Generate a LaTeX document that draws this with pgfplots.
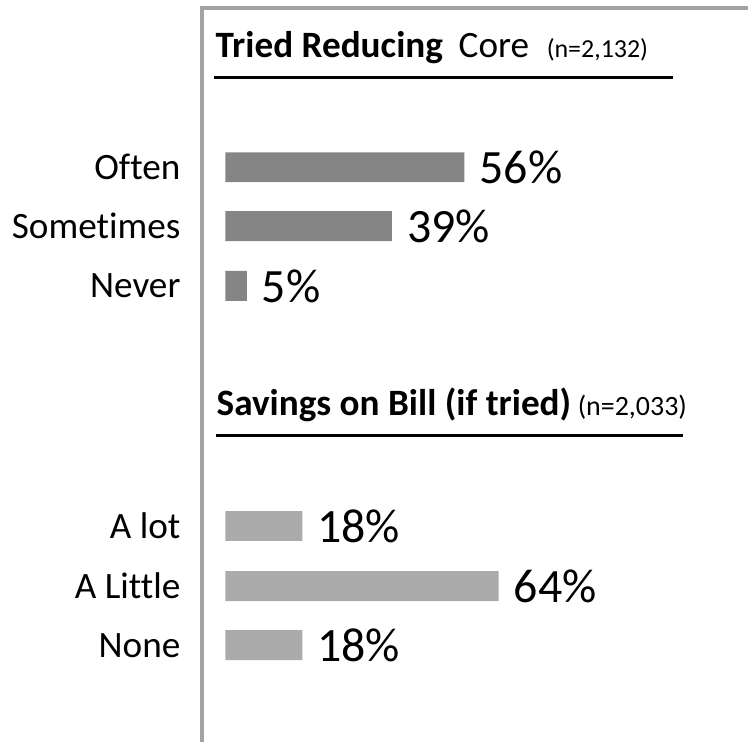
\documentclass[border=0pt]{standalone}
\usepackage{pgfplots}
\pgfplotsset{compat=1.18}
\usepackage{fontspec}
\setmainfont{Carlito}[Ligatures=NoCommon]
\definecolor{barA}{HTML}{858585}
\definecolor{barB}{HTML}{ABABAB}
\definecolor{framegray}{HTML}{A3A3A3}
\newcommand{\px}[1]{\fontsize{#1pt}{#1pt}\selectfont}

\begin{document}
\begin{tikzpicture}
\begin{axis}[
  width=750pt, height=744pt, scale only axis,
  xmin=-52.80, xmax=122.43, ymin=0, ymax=744, y dir=reverse,
  axis line style={draw=none}, xtick=\empty,
  ytick={167.7,226.7,286.7,527.5,587.7,647},
  yticklabels={Often,Sometimes,Never,A lot,A Little,None},
  major tick length=0pt,
  yticklabel style={font=\px{37.3}, xshift=181pt, inner sep=0pt, anchor=east},
  xbar, bar width=30pt, bar shift=0pt,
  point meta=x,
  /pgf/number format/assume math mode=true,
  nodes near coords={\pgfmathprintnumber{\pgfplotspointmeta}\%},
  nodes near coords style={font=\px{48}, anchor=west, inner sep=0pt, xshift=15pt, black},
  clip=false,
]
% frame
\draw[framegray, line width=4pt] (axis cs:-5.49,744) -- (axis cs:-5.49,8) -- (axis cs:122.43,8);

% Tried Reducing
\addplot[fill=barA, draw=none] coordinates {(56,167.7) (39,226.7) (5,286.7)};
% Savings on Bill
\addplot[fill=barB, draw=none] coordinates {(18,527.5) (64,587.7) (18,647)};

% headings
\node[anchor=base west, inner sep=0pt, font=\px{37.3}\bfseries] at (axis cs:-2.34,58) {Tried Reducing};
\node[anchor=base west, inner sep=0pt, font=\px{37.3}] at (axis cs:54.6,58) {Core};
\node[anchor=base west, inner sep=0pt, font=\px{26}] at (axis cs:75.23,58) {(n=2,132)};
\draw[black, line width=2.7pt] (axis cs:-2.57,77.7) -- (axis cs:104.9,77.7);

\node[anchor=base west, inner sep=0pt, font=\px{37.3}\bfseries] at (axis cs:-2.10,417) {Savings on Bill (if tried)};
\node[anchor=base west, inner sep=0pt, font=\px{28}] at (axis cs:82.5,417) {(n=2,033)};
\draw[black, line width=2.7pt] (axis cs:-2.10,437) -- (axis cs:107.24,437);
\end{axis}
\end{tikzpicture}
\end{document}
